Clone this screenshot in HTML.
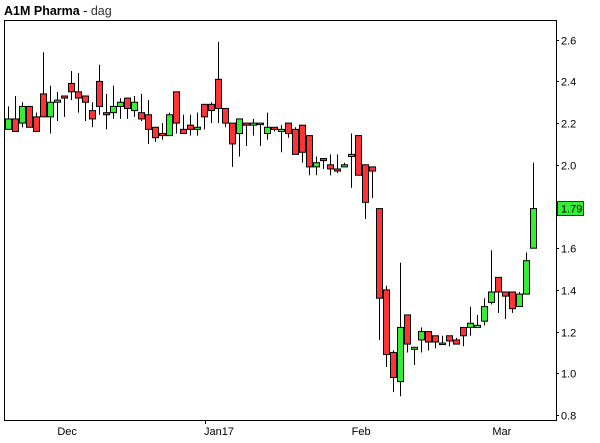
<!DOCTYPE html>
<html><head><meta charset="utf-8"><style>
html,body{margin:0;padding:0;background:#fff;width:600px;height:443px;overflow:hidden}
svg{display:block;font-family:"Liberation Sans",Arial,sans-serif}
</style></head><body>
<svg id="chart" width="600" height="443" xmlns="http://www.w3.org/2000/svg">
<text x="4" y="15" font-size="12.5"><tspan font-weight="bold">A1M Pharma</tspan><tspan> - </tspan><tspan fill="#333">dag</tspan></text>
<rect x="4.5" y="20.5" width="552" height="400" fill="#fff" stroke="#000" stroke-width="1"/>
<g id="yaxis"></g>
<g id="xaxis"></g>
<g id="candles"></g>
</svg>
<script>
const opens  = [2.17,2.22,2.20,2.28,2.23,2.34,2.23,2.30,2.33,2.39,2.35,2.33,2.26,2.40,2.25,2.25,2.28,2.32,2.26,2.25,2.24,2.18,2.15,2.14,2.35,2.17,2.19,2.17,2.29,2.29,2.41,2.27,2.20,2.15,2.20,2.19,2.20,2.15,2.18,2.16,2.20,2.17,2.19,2.14,1.99,2.03,2.00,1.98,1.99,2.04,2.14,2.00,1.99,1.79,1.40,1.10,0.96,1.28,1.115,1.16,1.20,1.18,1.145,1.18,1.16,1.22,1.22,1.22,1.25,1.34,1.46,1.39,1.39,1.32,1.38,1.60];
const highs  = [2.28,2.33,2.30,2.28,2.25,2.54,2.38,2.35,2.33,2.45,2.44,2.33,2.30,2.48,2.34,2.38,2.32,2.32,2.33,2.34,2.31,2.18,2.20,2.25,2.35,2.24,2.24,2.25,2.29,2.30,2.59,2.27,2.20,2.22,2.20,2.22,2.20,2.25,2.18,2.19,2.20,2.18,2.19,2.14,2.04,2.03,2.05,2.05,2.01,2.15,2.14,2.00,1.99,1.79,1.42,1.11,1.53,1.28,1.12,1.22,1.20,1.18,1.18,1.18,1.17,1.22,1.32,1.28,1.36,1.59,1.46,1.39,1.39,1.39,1.58,2.01];
const lows   = [2.17,2.16,2.18,2.18,2.16,2.23,2.15,2.21,2.23,2.31,2.25,2.21,2.18,2.24,2.17,2.22,2.22,2.22,2.23,2.21,2.10,2.11,2.12,2.14,2.15,2.15,2.14,2.14,2.17,2.20,2.20,2.18,1.99,2.04,2.09,2.14,2.09,2.12,2.16,2.06,2.13,2.05,2.01,1.95,1.95,1.98,1.95,1.96,1.99,1.89,1.95,1.74,1.84,1.16,1.03,0.91,0.89,1.10,1.04,1.10,1.11,1.12,1.145,1.13,1.14,1.13,1.18,1.22,1.23,1.33,1.29,1.26,1.29,1.32,1.38,1.60];
const closes = [2.22,2.16,2.28,2.18,2.16,2.23,2.30,2.31,2.32,2.35,2.32,2.30,2.22,2.28,2.24,2.28,2.30,2.27,2.30,2.22,2.17,2.13,2.14,2.24,2.20,2.15,2.17,2.18,2.23,2.26,2.27,2.20,2.10,2.22,2.19,2.20,2.20,2.18,2.17,2.17,2.15,2.05,2.06,1.99,2.01,2.02,1.98,1.97,2.00,2.05,1.95,1.82,1.97,1.36,1.09,0.98,1.22,1.14,1.125,1.20,1.15,1.15,1.145,1.155,1.14,1.18,1.24,1.23,1.32,1.39,1.39,1.37,1.31,1.38,1.54,1.79];
const yTicks = [0.8,1.0,1.2,1.4,1.6,1.8,2.0,2.2,2.4,2.6];
const xLabels = ["Dec","Jan17","Feb","Mar"];
const xLabelIdx = [8.4,30.1,50.4,70.5];
const lastLabel = "1.79";

const NS="http://www.w3.org/2000/svg";
function yS(v){return 415-(v-0.8)*208.5;}
function xS(i){return 8.3+i*7;}
function mk(tag,attrs,parent){const e=document.createElementNS(NS,tag);for(const k in attrs)e.setAttribute(k,attrs[k]);parent.appendChild(e);return e;}
const ya=document.getElementById('yaxis');
yTicks.forEach(v=>{
  const y=Math.round(yS(v))+0.5;
  const t=mk('line',{x1:556,x2:559,y1:y,y2:y,stroke:'#000'},ya);
  
  
  const l=mk('text',{x:561,y:y+4,'font-size':'11',fill:'#000'},ya);
  
  
  l.textContent=v.toFixed(1);
});
const xa=document.getElementById('xaxis');
xLabels.forEach((s,i)=>{
  const x=xS(xLabelIdx[i]);
  const l=mk('text',{x:x,y:435,'font-size':'11','text-anchor':'middle'},xa);
  
  
  l.textContent=s;
});
const jt=mk('line',{x1:205.5,x2:205.5,y1:420,y2:424,stroke:'#000'},xa);


const cg=document.getElementById('candles');
for(let i=0;i<opens.length;i++){
  const x=Math.round(xS(i))+0.5;
  const g=mk('g',{},cg);
  
  
  mk('line',{x1:x,x2:x,y1:yS(highs[i]),y2:yS(lows[i]),stroke:'#000','stroke-width':1},g);
  const up=closes[i]>=opens[i];
  const top=yS(Math.max(opens[i],closes[i])),bot=yS(Math.min(opens[i],closes[i]));
  mk('rect',{x:x-3,y:top,width:6,height:Math.max(bot-top,1.5),fill:up?'#33ee33':'#ff3333',stroke:'#000','stroke-width':1},g);
}
const ly=yS(closes[closes.length-1]);
const bx=mk('rect',{x:557.5,y:ly-7,width:26,height:14,fill:'#33ee33',stroke:'#000','stroke-width':0.8},cg);


const bt=mk('text',{x:561,y:ly+4,'font-size':'11'},cg);


bt.textContent=lastLabel;
</script>
</body></html>
